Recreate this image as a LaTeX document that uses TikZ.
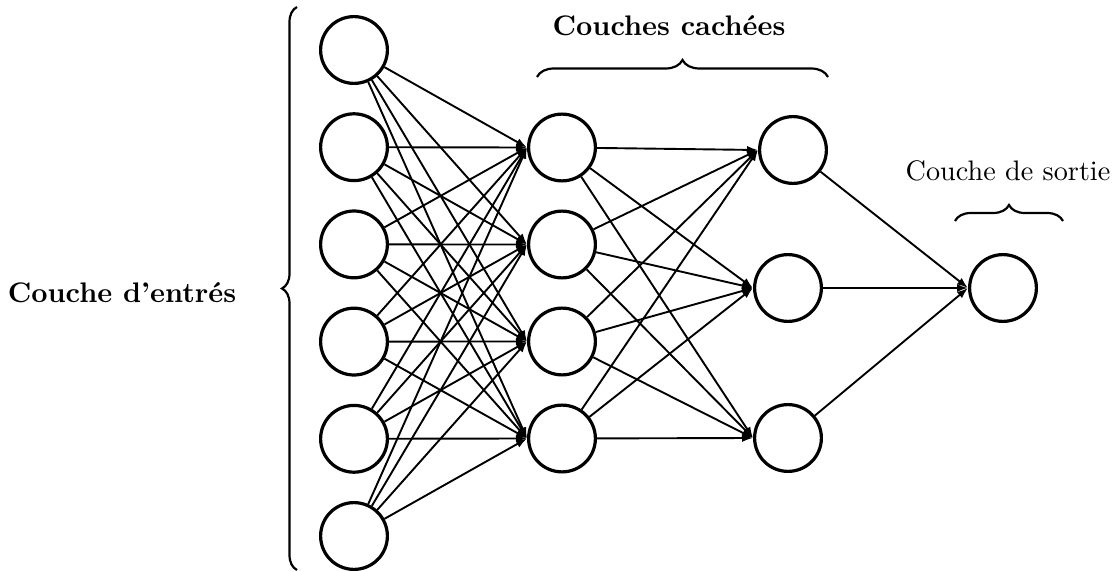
\documentclass[tikz,border=0pt]{standalone}
\usepackage{fontspec}
\setmainfont{lmroman10-regular.otf}[BoldFont=lmroman10-bold.otf]
\usetikzlibrary{decorations.pathreplacing,arrows.meta}
\begin{document}
\begin{tikzpicture}[x=1pt,y=-1pt,
  neuron/.style={circle,draw,line width=3.2pt,minimum size=66.8pt,inner sep=0pt},
  conn/.style={line width=1.9pt,-{Latex[length=11pt,width=8pt]}},
  lbl/.style={font=\fontsize{28.3}{34}\selectfont\bfseries},
  lblr/.style={font=\fontsize{28.2}{34}\selectfont},
  brc/.style={decorate,decoration={brace,amplitude=#1},line width=2.2pt}]
\useasboundingbox (0,0) rectangle (1117,572);
% input layer
\foreach \i/\y in {1/50,2/147.2,3/244.4,4/341.6,5/438.8,6/536}
  \node[neuron] (I\i) at (354,\y) {};
% hidden layer 1
\foreach \j/\y in {1/147.5,2/244.5,3/341.5,4/438.5}
  \node[neuron] (A\j) at (562,\y) {};
% hidden layer 2
\node[neuron] (B1) at (793,150) {};
\node[neuron] (B2) at (788,288) {};
\node[neuron] (B3) at (788,438) {};
% output
\node[neuron] (O) at (1003,288) {};
% connections
\foreach \i in {1,...,6}
  \foreach \j in {1,...,4}
    \draw[conn] (I\i) -- (A\j.west);
\foreach \j in {1,...,4}
  \foreach \k in {1,...,3}
    \draw[conn] (A\j) -- (B\k.west);
\foreach \k in {1,...,3}
  \draw[conn] (B\k) -- (O.west);
% labels
\node[lbl,anchor=base] (lin) at (122,302) {Couche d'entrés};
\node[lbl,anchor=base] (lhid) at (669,36) {Couches cachées};
\node[lblr,anchor=base] (lout) at (1008,181) {Couche de sortie};
% braces
\draw[brc=15pt] (297,570) -- (297,7);
\draw[brc=17pt] (537,77) -- (828,77);
\draw[brc=16pt] (955,221) -- (1063,221);
\end{tikzpicture}
\end{document}
